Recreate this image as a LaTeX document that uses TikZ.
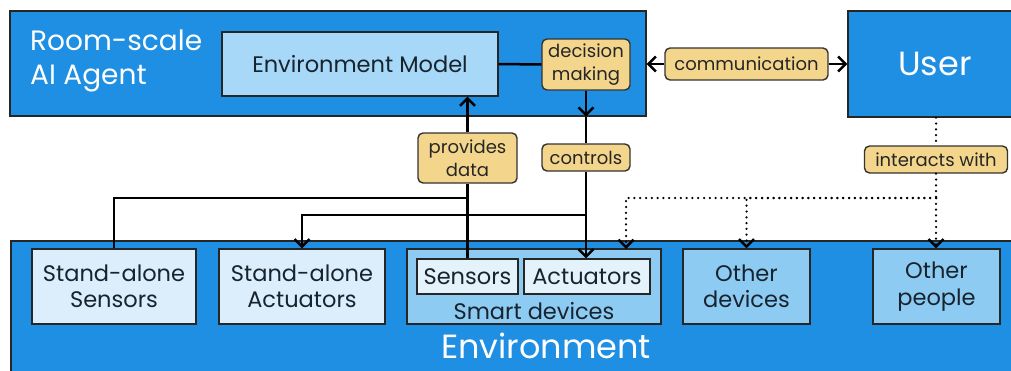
\documentclass[tikz,border=0pt]{standalone}
\usepackage{fontspec}
\setmainfont{Poppins}
\usetikzlibrary{arrows.meta}
\definecolor{deepblue}{HTML}{1E8FE2}
\definecolor{modelblue}{HTML}{A8D8F7}
\definecolor{paleblue}{HTML}{DCEEFB}
\definecolor{midblue}{HTML}{8DCBF3}
\definecolor{innerpale}{HTML}{E4F2FC}
\definecolor{tagfill}{HTML}{F3D68B}
\definecolor{inktext}{HTML}{17242E}
\tikzset{
  bigbox/.style={draw=black!85, line width=1.4pt, fill=deepblue, inner sep=0pt},
  inbox/.style={draw=black!85, line width=1.4pt, inner sep=0pt, text=inktext, align=center,
     font=\fontsize{22.5}{26.5}\selectfont},
  tag/.style={draw=black!80, line width=1.4pt, fill=tagfill, rounded corners=5pt, inner sep=0pt,
     text=black!85, align=center, font=\fontsize{18}{23}\selectfont},
  bigtext/.style={text=white, inner sep=0pt, font=\fontsize{33.5}{38}\selectfont},
  conn/.style={line width=2.5pt, draw=black},
  dotconn/.style={line width=2.5pt, draw=black, line cap=round, dash pattern=on 0pt off 5.8pt},
  arr/.style={-{Straight Barb[length=7.5pt,width=15pt]}},
}
\begin{document}
\begin{tikzpicture}[x=1pt,y=-1pt]
\useasboundingbox (0,0) rectangle (1011,370);
% big boxes
\node[bigbox, minimum width=636pt, minimum height=105pt] (agent) at (328,63.5) {};
\node[bigbox, minimum width=174pt, minimum height=106pt] (user) at (935,64) {};
\node[bigbox, minimum width=1014pt, minimum height=144pt] (env) at (518,313) {};
% big texts
\node[bigtext, anchor=west, align=left, font=\fontsize{28}{34}\selectfont] (agenttext) at (30,61) {Room-scale\\AI Agent};
\node[bigtext] (usertext) at (935,64) {User};
\node[bigtext, anchor=base] (envtext) at (546,358) {Environment};
% agent interior
\node[inbox, fill=modelblue, minimum width=276pt, minimum height=64pt] (envmodel) at (360,64) {Environment Model};
\node[tag, minimum width=88pt, minimum height=51pt] (decision) at (586,64.5) {decision\\making};
% environment children
\node[inbox, fill=paleblue, minimum width=164pt, minimum height=75pt] (ssens) at (114,286.5) {Stand-alone\\Sensors};
\node[inbox, fill=paleblue, minimum width=166pt, minimum height=75pt] (sact) at (302,286.5) {Stand-alone\\Actuators};
\node[inbox, fill=midblue, minimum width=254pt, minimum height=75pt] (smart) at (534,286.5) {};
\node[inbox, fill=innerpale, minimum width=101pt, minimum height=35pt] (sensors) at (467.5,276.5) {Sensors};
\node[inbox, fill=innerpale, minimum width=126pt, minimum height=35pt] (actuators) at (587,276.5) {Actuators};
\node[text=inktext, inner sep=0pt, font=\fontsize{22.5}{26.5}\selectfont] (smarttext) at (534,311) {Smart devices};
\node[inbox, fill=midblue, minimum width=127pt, minimum height=75pt] (odev) at (746.5,286.5) {Other\\devices};
\node[inbox, fill=midblue, minimum width=127pt, minimum height=75pt] (opeo) at (936.5,286.5) {Other\\people};
% labels
\node[tag, minimum width=163pt, minimum height=32pt] (comm) at (746.5,64) {communication};
\node[tag, minimum width=99pt, minimum height=50pt] (provides) at (467.5,158) {provides\\data};
\node[tag, minimum width=88pt, minimum height=27pt] (controls) at (586,157.5) {controls};
\node[tag, minimum width=143pt, minimum height=27pt] (interacts) at (936,159.5) {interacts with};
% junction coordinates
\coordinate (cj) at (586,215);
\coordinate (sj) at (467.5,198);
\coordinate (dj) at (936,198);
\coordinate (smartin) at (626,249);
% connectors
\draw[conn] (envmodel.east) -- (decision.west);
\draw[conn,arr] (decision.south) -- (decision.south |- agent.south);
\draw[conn] (decision.south |- agent.south) -- (controls.north);
\draw[conn] (controls.south) -- (cj);
\draw[conn,arr] (cj) -- (cj |- actuators.north);
\draw[conn,arr] (cj) -| (sact.north);
\draw[conn] (sensors.north) -- (sj) -- (provides.south);
\draw[conn] (ssens.north) |- (sj);
\draw[conn,arr] (provides.north) -- (provides.north |- envmodel.south);
\draw[conn,arr] (comm.west) -- (comm.west -| agent.east);
\draw[conn,arr] (comm.east) -- (comm.east -| user.west);
\draw[dotconn] (interacts |- user.south) -- (interacts.north);
\draw[dotconn] (interacts.south) -- (dj);
\draw[dotconn,arr] (dj) -- (dj |- opeo.north);
\draw[dotconn,arr] (dj) -| (odev.north);
\draw[dotconn,arr] (dj) -| (smartin);
\end{tikzpicture}
\end{document}
